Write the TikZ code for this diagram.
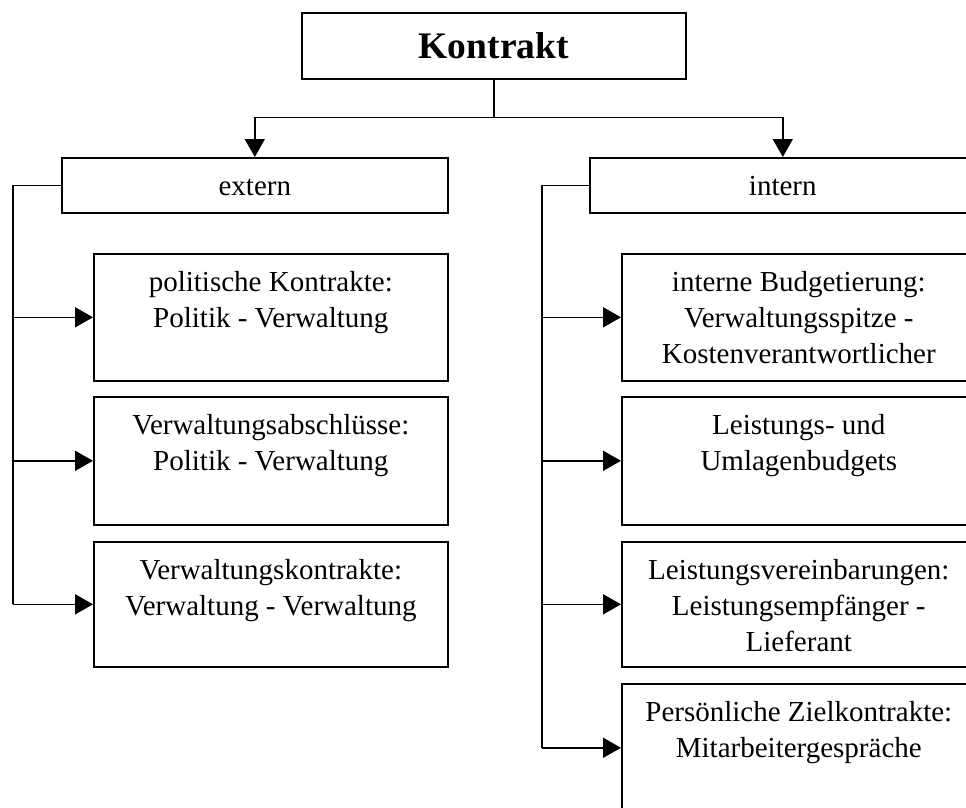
\documentclass[tikz,border=0pt]{standalone}
\usepackage{fontspec}
\setmainfont{Liberation Serif}
\usetikzlibrary{arrows.meta,calc}
\begin{document}
\begin{tikzpicture}[x=1pt,y=-1pt,
  box/.style={draw, line width=1.6pt, rectangle, inner sep=0pt, anchor=north west},
  smallbox/.style={box, minimum width=354pt},
  headbox/.style={box, minimum width=386pt, minimum height=55pt},
  arr/.style={line width=1.6pt, -{Triangle[length=18pt,width=20pt]}},
  ln/.style={line width=1.6pt},
  txt/.style={inner sep=0pt, anchor=base, font=\fontsize{29}{36}\selectfont}]
\useasboundingbox (0,0) rectangle (966,807);
\clip (0,0) rectangle (966,807);
\newcommand{\lines}[1]{\begin{tabular}[t]{@{}c@{}}#1\end{tabular}}
% top
\node[box, minimum width=384pt, minimum height=66pt] (K) at (301,12) {};
\node[txt, font=\fontsize{37.5}{45}\selectfont\bfseries] (Kt) at ($(K.north)+(0,46)$) {Kontrakt};
% level 2
\node[headbox] (ext) at (61,157) {};
\node[txt] (extt) at ($(ext.north)+(0,38)$) {extern};
\node[headbox] (int) at (589,157) {};
\node[txt] (intt) at ($(int.north)+(0,38)$) {intern};
% left boxes
\node[smallbox, minimum height=127pt] (l1) at (93,253) {};
\node[txt] (l1t) at ($(l1.north)+(0,38)$) {\lines{politische Kontrakte:\\Politik - Verwaltung}};
\node[smallbox, minimum height=128pt] (l2) at (93,396) {};
\node[txt] (l2t) at ($(l2.north)+(0,38)$) {\lines{Verwaltungsabschlüsse:\\Politik - Verwaltung}};
\node[smallbox, minimum height=125pt] (l3) at (93,541) {};
\node[txt] (l3t) at ($(l3.north)+(0,38)$) {\lines{Verwaltungskontrakte:\\Verwaltung - Verwaltung}};
% right boxes
\node[smallbox, minimum height=127pt] (r1) at (621,253) {};
\node[txt] (r1t) at ($(r1.north)+(0,38)$) {\lines{interne Budgetierung:\\Verwaltungsspitze -\\Kostenverantwortlicher}};
\node[smallbox, minimum height=128pt] (r2) at (621,396) {};
\node[txt] (r2t) at ($(r2.north)+(0,38)$) {\lines{Leistungs- und\\Umlagenbudgets}};
\node[smallbox, minimum height=125pt] (r3) at (621,541) {};
\node[txt] (r3t) at ($(r3.north)+(0,38)$) {\lines{Leistungsvereinbarungen:\\Leistungsempfänger -\\Lieferant}};
\node[smallbox, minimum height=128pt] (r4) at (621,683) {};
\node[txt] (r4t) at ($(r4.north)+(0,38)$) {\lines{Persönliche Zielkontrakte:\\Mitarbeitergespräche}};
% connectors top
\coordinate (j) at ($(K.south)+(0,38)$);
\draw[ln] (K.south) -- (j);
\draw[arr] (j) -| (ext.north);
\draw[arr] (j) -| (int.north);
% left bracket
\coordinate (lb) at (13,0);
\draw[ln] (ext.west) -| (lb |- l3.west);
\draw[arr] (lb |- l1.west) -- (l1.west);
\draw[arr] (lb |- l2.west) -- (l2.west);
\draw[arr] (lb |- l3.west) -- (l3.west);
% right bracket
\coordinate (rb) at (542,0);
\draw[ln] (int.west) -| (rb |- r4.west);
\draw[arr] (rb |- r1.west) -- (r1.west);
\draw[arr] (rb |- r2.west) -- (r2.west);
\draw[arr] (rb |- r3.west) -- (r3.west);
\draw[arr] (rb |- r4.west) -- (r4.west);
\end{tikzpicture}
\end{document}
